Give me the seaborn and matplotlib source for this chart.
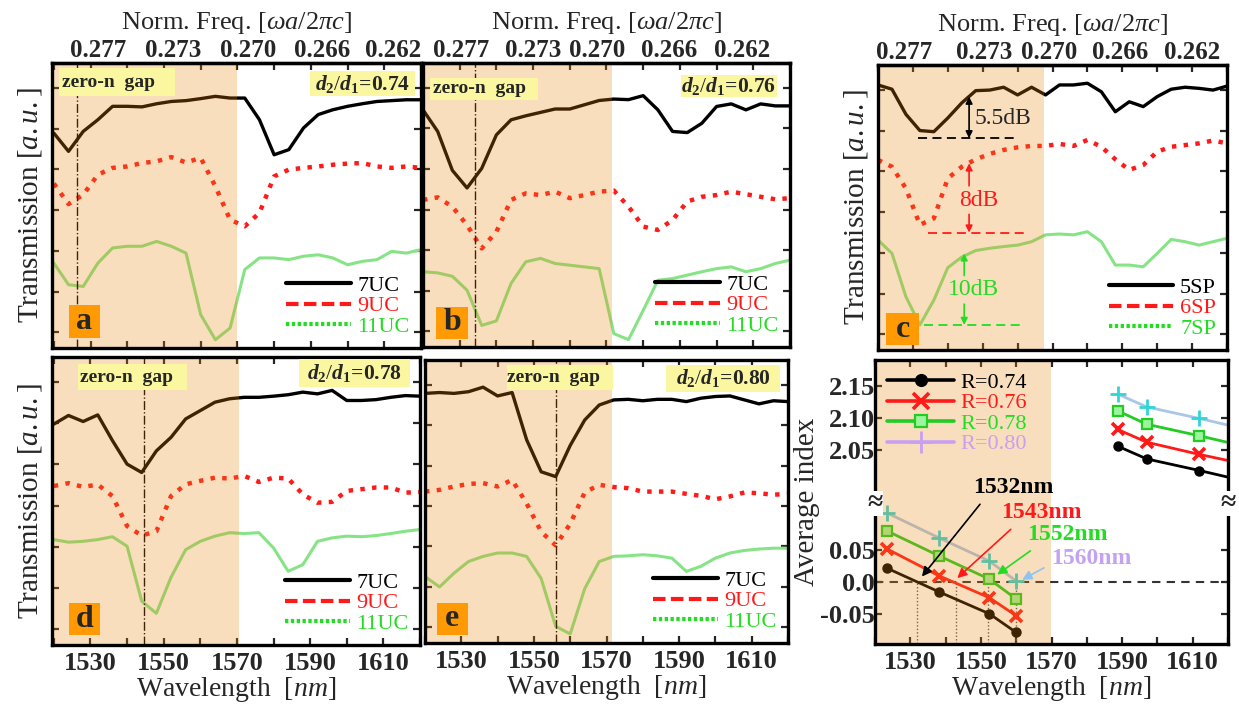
import numpy as np
import matplotlib
matplotlib.use("Agg")
import matplotlib.pyplot as plt
from matplotlib.patches import Rectangle
from matplotlib.lines import Line2D
import seaborn as sns

# ---------------- data ----------------
# wavelength grid (nm) at which the transmission traces were read
wl = [1520, 1524, 1528, 1532, 1536, 1540, 1544, 1548, 1552, 1556, 1560, 1564, 1568,
      1572, 1576, 1580, 1584, 1588, 1592, 1596, 1600, 1604, 1608, 1612, 1616, 1620]

# transmission, arbitrary units (traces are vertically offset)
a_7uc = [7.54, 6.90, 7.60, 8.01, 8.48, 8.48, 8.46, 8.57, 8.65, 8.68, 8.75, 8.83, 8.77,
         8.77, 8.01, 6.78, 6.96, 7.72, 8.19, 8.36, 8.48, 8.57, 8.65, 8.68, 8.71, 8.71]
a_9uc = [5.77, 5.05, 5.38, 6.08, 6.32, 6.37, 6.49, 6.55, 6.70, 6.51, 6.67, 5.67, 4.50,
         4.27, 4.74, 6.02, 6.26, 6.32, 6.37, 6.43, 6.47, 6.49, 6.37, 6.32, 6.37, 6.32]
a_11uc = [2.98, 2.22, 2.16, 2.98, 3.51, 3.57, 3.57, 3.74, 3.57, 3.33, 1.17, 0.29, 0.70,
          2.75, 3.16, 3.16, 3.10, 3.22, 3.27, 3.16, 2.92, 3.04, 3.10, 3.39, 3.33, 3.45]

b_7uc = [8.35, 7.59, 6.22, 5.60, 6.29, 7.47, 8.00, 8.14, 8.26, 8.38, 8.38, 8.53, 8.68,
         8.73, 8.71, 8.85, 8.35, 7.59, 7.55, 7.88, 8.47, 8.56, 8.35, 8.56, 8.49, 8.49]
b_9uc = [5.18, 5.27, 4.94, 4.29, 3.47, 4.06, 5.18, 5.41, 5.35, 5.47, 5.24, 5.35, 5.47,
         5.51, 4.94, 4.24, 4.12, 4.47, 5.12, 5.29, 5.35, 5.47, 5.38, 5.29, 5.20, 5.24]
b_11uc = [2.65, 2.61, 2.49, 2.00, 0.76, 0.92, 2.24, 3.00, 3.12, 2.94, 2.88, 2.82, 2.76,
          0.47, 0.26, 1.29, 2.35, 2.41, 2.53, 2.65, 2.76, 2.82, 2.65, 2.76, 2.94, 3.06]

c_5sp = [9.30, 9.15, 8.27, 7.70, 7.66, 8.14, 8.67, 9.10, 9.12, 9.22, 8.95, 9.22, 8.95,
         9.30, 9.30, 9.36, 9.06, 8.36, 8.71, 8.54, 8.89, 9.15, 9.22, 9.18, 9.12, 9.26]
c_6sp = [6.67, 6.43, 5.67, 4.39, 4.62, 6.02, 6.43, 6.69, 6.88, 7.02, 7.11, 7.16, 7.16,
         7.23, 7.16, 7.37, 7.13, 6.69, 6.32, 6.49, 6.96, 7.13, 7.19, 7.25, 7.35, 7.25]
c_7sp = [3.86, 3.39, 1.87, 0.88, 1.75, 2.89, 3.26, 3.49, 3.57, 3.63, 3.68, 3.80, 4.04,
         4.07, 4.04, 4.15, 3.80, 2.98, 2.98, 2.92, 3.39, 3.88, 3.80, 3.68, 3.80, 3.92]

d_7uc = [7.67, 7.97, 7.76, 7.99, 7.10, 6.28, 5.99, 6.74, 7.21, 7.85, 8.14, 8.43, 8.55,
         8.60, 8.60, 8.64, 8.69, 8.78, 8.72, 8.84, 8.49, 8.49, 8.52, 8.60, 8.66, 8.64]
d_9uc = [5.52, 5.62, 5.49, 5.57, 5.17, 4.13, 3.80, 3.95, 5.17, 5.58, 5.70, 5.81, 5.78,
         5.87, 5.66, 5.81, 5.78, 5.23, 4.94, 4.97, 5.35, 5.41, 5.47, 5.47, 5.29, 5.31]
d_11uc = [3.66, 3.57, 3.60, 3.66, 3.76, 3.43, 1.52, 1.10, 2.35, 3.31, 3.60, 3.78, 3.90,
          3.87, 3.90, 3.37, 2.56, 2.79, 3.60, 3.72, 3.78, 3.76, 3.80, 3.87, 3.95, 4.01]

e_7uc = [8.82, 8.85, 8.82, 8.88, 9.04, 8.73, 8.85, 7.18, 6.05, 5.88, 6.98, 7.88, 8.41,
         8.59, 8.61, 8.56, 8.61, 8.61, 8.53, 8.65, 8.71, 8.73, 8.59, 8.45, 8.56, 8.53]
e_9uc = [5.35, 5.41, 5.53, 5.62, 5.65, 5.53, 5.76, 4.93, 3.93, 3.45, 4.21, 5.32, 5.59,
         5.51, 5.47, 5.35, 5.35, 5.35, 5.27, 5.20, 5.08, 5.18, 5.32, 5.29, 5.24, 5.27]
e_11uc = [2.35, 1.98, 2.47, 2.88, 3.06, 3.18, 3.18, 3.06, 2.28, 0.59, 0.32, 1.92, 2.88,
          3.06, 3.08, 3.12, 3.08, 3.00, 2.53, 2.71, 3.00, 3.18, 3.27, 3.32, 3.35, 3.35]

uc_labels = ["7UC", "9UC", "11UC"]
sp_labels = ["5SP", "6SP", "7SP"]
ratios = ["0.74", "0.76", "0.78", "0.80"]
panel_ratio = ["0.74", "0.76", None, "0.78", "0.80"]
zero_n_center = [1526.2, 1534.2, None, 1544.6, 1556.1]   # dash-dot line per panel
gap_edge = [1570.0, 1571.5, 1567.5, 1570.5, 1571.5]      # end of zero-n gap shading

# dB contrast marks in panel c
c_db_text = ["5.5dB", "8dB", "10dB"]
c_db_top = [8.89, 6.55, 3.39]
c_db_base = [7.43, 4.12, 0.88]

# top axis labels (normalized frequency)
freq_labels = ["0.277", "0.273", "0.270", "0.266", "0.262"]
freq_pos_a = [1532, 1552.5, 1573, 1593, 1612.5]
freq_pos_b = [1530.5, 1550, 1567.5, 1587, 1607]
freq_pos_c = [1527.5, 1550.5, 1569, 1589.5, 1610]

# panel f: average index
f_wl_low = [1523.4, 1538.2, 1552.4, 1560.0]
f_wl_high = [1588.7, 1597.0, 1611.9, 1620.5]
idx_low = {"0.74": [0.021, -0.016, -0.050, -0.079],
           "0.76": [0.051, 0.009, -0.025, -0.053],
           "0.78": [0.079, 0.040, 0.004, -0.027],
           "0.80": [0.107, 0.068, 0.032, 0.001]}
idx_high = {"0.74": [2.056, 2.036, 2.018, 2.007],
            "0.76": [2.082, 2.062, 2.043, 2.033],
            "0.78": [2.111, 2.090, 2.072, 2.061],
            "0.80": [2.137, 2.117, 2.099, 2.088]}
f_cross = [1532, 1543, 1552, 1560]

# ---------------- style ----------------
sns.set_style("ticks")
plt.rcParams["font.family"] = ["Liberation Serif", "DejaVu Serif"]
plt.rcParams["mathtext.fontset"] = "custom"
plt.rcParams["mathtext.rm"] = "Liberation Serif"
plt.rcParams["mathtext.it"] = "Liberation Serif:italic"
plt.rcParams["mathtext.bf"] = "Liberation Serif:bold"
plt.rcParams["mathtext.bfit"] = "Liberation Serif:italic:bold"

BLACK = "#000000"
RED = "#FF1A1A"
GREEN_LINE = "#86E486"
GREEN = "#22DD22"
SHADE = "#EC850E"
YELLOW = "#FBF7A0"
ORANGE = "#FF9A05"

fig = plt.figure(figsize=(12.39, 7.05), dpi=100)


def add_panel(l, r, t, b):
    return fig.add_axes([l / 1239, 1 - b / 705, (r - l) / 1239, (b - t) / 705])


def frame(ax, xlim, bottom_labels):
    ax.set_xlim(*xlim)
    ax.set_xticks([1530, 1550, 1570, 1590, 1610])
    ax.set_xticks([1520, 1540, 1560, 1580, 1600, 1620], minor=True)
    ax.tick_params(which="both", direction="in", top=True, right=True,
                   length=5, width=1.6, labelsize=19, pad=5)
    ax.tick_params(axis="x", labelbottom=bottom_labels)
    for lab in ax.get_xticklabels():
        lab.set_fontweight("bold")
    for s in ax.spines.values():
        s.set_linewidth(2.4)
        s.set_color("black")
    if bottom_labels:
        ax.set_xlabel("Wavelength  [$nm$]", fontsize=20, labelpad=0)
    else:
        ax.set_xlabel("")


def top_freq(ax, pos):
    sec = ax.secondary_xaxis("top")
    sec.set_xticks(pos, freq_labels)
    sec.tick_params(length=0, pad=1, labelsize=18)
    for lab in sec.get_xticklabels():
        lab.set_fontweight("bold")
    sec.spines["top"].set_linewidth(2.4)
    sec.set_xlabel(r"Norm. Freq. [$\omega a/2\pi c$]", fontsize=19, labelpad=7)


def box_text(ax, x0, x1, y0, y1, txt, color, size, ha="left", tx=None):
    ax.add_patch(Rectangle((x0, y0), x1 - x0, y1 - y0, transform=ax.transAxes,
                           fc=color, ec="none", zorder=5, clip_on=False))
    if ha == "center":
        ax.text((x0 + x1) / 2, (y0 + y1) / 2, txt, transform=ax.transAxes, ha="center",
                va="center", fontsize=size, fontweight="bold", zorder=6)
    else:
        ax.text(tx, (y0 + y1) / 2, txt, transform=ax.transAxes, ha="left",
                va="center", fontsize=size, fontweight="bold", zorder=6)


def trans_panel(ax, traces, labels, i, xlim, letter, letter_box, zbox=None, rbox=None,
                bottom_labels=False, ylabel=True):
    black, red, green = traces
    sns.lineplot(x=wl, y=black, ax=ax, color=BLACK, lw=2.4, legend=False, zorder=2)
    sns.lineplot(x=wl, y=red, ax=ax, color=RED, lw=3.2, linestyle=":", legend=False, zorder=2)
    sns.lineplot(x=wl, y=green, ax=ax, color=GREEN_LINE, lw=2.2, legend=False, zorder=2)
    if zero_n_center[i] is not None:
        ax.axvline(zero_n_center[i], color="black", lw=1.0, ls="-.", zorder=2.1)
    ax.axvspan(xlim[0] - 2, gap_edge[i], color=SHADE, alpha=0.27, lw=0, zorder=2.3)
    ax.set_ylim(0, 10)
    ax.set_yticks(np.arange(0.55, 10, 1.43))
    ax.tick_params(axis="y", labelleft=False)
    frame(ax, xlim, bottom_labels)
    if ylabel:
        ax.set_ylabel("Transmission [$a.u.$]", fontsize=21, labelpad=6)
    else:
        ax.set_ylabel("")
    if zbox is not None:
        box_text(ax, *zbox[:4], "zero-n  gap", YELLOW, 14, tx=zbox[4])
    if rbox is not None:
        box_text(ax, *rbox, r"$\mathbfit{d}_{\mathbf{2}}/\mathbfit{d}_{\mathbf{1}}$=" + panel_ratio[i],
                 YELLOW, 15.5, ha="center")
    box_text(ax, *letter_box, letter, ORANGE, 23, ha="center")
    handles = [Line2D([], [], color=BLACK, lw=3),
               Line2D([], [], color=RED, lw=3, ls=(0, (3, 1.3))),
               Line2D([], [], color=GREEN, lw=3, ls=(0, (0.8, 0.6)))]
    leg = ax.legend(handles, labels, loc="lower right", frameon=False, fontsize=16,
                    handlelength=2.9, handletextpad=0.3, labelspacing=0.0,
                    borderaxespad=0.1, labelcolor=[BLACK, RED, GREEN])
    leg.set_zorder(6)


# ---------------- panels a-e ----------------
ax_a = add_panel(52, 421, 63, 348)
trans_panel(ax_a, (a_7uc, a_9uc, a_11uc), uc_labels, 0, (1519.5, 1620), "a",
            (0.045, 0.131, 0.035, 0.152), zbox=(0.018, 0.334, 0.883, 0.982, 0.027),
            rbox=(0.699, 0.984, 0.883, 0.971))
top_freq(ax_a, freq_pos_a)

ax_b = add_panel(423, 790, 63, 347)
trans_panel(ax_b, (b_7uc, b_9uc, b_11uc), uc_labels, 1, (1521, 1618), "b",
            (0.036, 0.123, 0.029, 0.141), zbox=(0.020, 0.314, 0.871, 0.947, 0.027),
            rbox=(0.702, 0.964, 0.882, 0.959), ylabel=False)
top_freq(ax_b, freq_pos_b)

ax_c = add_panel(878, 1227, 65, 350)
trans_panel(ax_c, (c_5sp, c_6sp, c_7sp), sp_labels, 2, (1521, 1620), "c",
            (0.024, 0.117, 0.018, 0.129))
top_freq(ax_c, freq_pos_c)

# contrast marks in panel c
db_colors = [BLACK, RED, GREEN]
db_span = [(1531.4, 1558.9), (1534.3, 1562.2), (1533.3, 1561.3)]
db_x = [1546.1, 1546.1, 1544.7]
for k in range(3):
    ax_c.hlines(c_db_base[k], *db_span[k], colors=db_colors[k], lw=1.3,
                linestyles=(0, (5, 3)), zorder=4)
ax_c.annotate("", xy=(db_x[0], c_db_base[0]), xytext=(db_x[0], c_db_top[0]),
              arrowprops=dict(arrowstyle="<|-|>", color=BLACK, lw=1.2, mutation_scale=10,
                              shrinkA=0, shrinkB=0), zorder=4)
ax_c.text(1547.8, 8.13, c_db_text[0], fontsize=17, ha="left", va="center", zorder=6)
for k, ymid in [(1, 5.26), (2, 2.11)]:
    ax_c.text(db_x[k] + 2.8, ymid, c_db_text[k], fontsize=17, ha="center", va="center",
              color=db_colors[k], zorder=6)
    ax_c.annotate("", xy=(db_x[k], c_db_top[k]), xytext=(db_x[k], ymid + 0.5),
                  arrowprops=dict(arrowstyle="-|>", color=db_colors[k], lw=1.2,
                                  mutation_scale=10, shrinkA=0, shrinkB=0), zorder=4)
    ax_c.annotate("", xy=(db_x[k], c_db_base[k]), xytext=(db_x[k], ymid - 0.5),
                  arrowprops=dict(arrowstyle="-|>", color=db_colors[k], lw=1.2,
                                  mutation_scale=10, shrinkA=0, shrinkB=0), zorder=4)

ax_d = add_panel(52, 420, 357, 645)
trans_panel(ax_d, (d_7uc, d_9uc, d_11uc), uc_labels, 3, (1519.5, 1620), "d",
            (0.045, 0.131, 0.035, 0.145), zbox=(0.072, 0.367, 0.884, 0.977, 0.075),
            rbox=(0.670, 0.973, 0.895, 0.993), bottom_labels=True)

ax_e = add_panel(425, 788, 360, 643)
trans_panel(ax_e, (e_7uc, e_9uc, e_11uc), uc_labels, 4, (1521, 1618), "e",
            (0.032, 0.119, 0.029, 0.141), zbox=(0.225, 0.518, 0.894, 0.982, 0.227),
            rbox=(0.665, 0.977, 0.888, 0.982), bottom_labels=True, ylabel=False)

# ---------------- panel f: average index with broken y axis ----------------
B1, B2, EPS = 0.123, 1.9698, 0.001


def fwd(y):
    y = np.asarray(y, dtype=float)
    return np.where(y <= B1, y, np.where(y >= B2, y - (B2 - B1) * (1 - EPS),
                                          B1 + (y - B1) * EPS))


def inv(t):
    t = np.asarray(t, dtype=float)
    top = B1 + (B2 - B1) * EPS
    return np.where(t <= B1, t, np.where(t >= top, t + (B2 - B1) * (1 - EPS),
                                          B1 + (t - B1) / EPS))


ax_f = add_panel(875, 1228, 360, 644)
ax_f.set_yscale("function", functions=(fwd, inv))

f_style = {
    "0.74": dict(color=BLACK, marker="o", ms=6.5, mfc=BLACK, mec=BLACK, mew=1),
    "0.76": dict(color=RED, marker="x", ms=9, mfc=RED, mec=RED, mew=2.6),
    "0.78": dict(color="#22CC22", marker="s", ms=6.5, mfc="#9CF59C", mec="#22CC22", mew=1.6),
    "0.80": dict(color="#A9C6E8", marker="+", ms=12, mfc="#30D5D5", mec="#30D5D5", mew=2.0),
}
for r in ratios:
    st = f_style[r]
    sns.lineplot(x=f_wl_low, y=idx_low[r], ax=ax_f, lw=2.0, legend=False, zorder=2, **st)
    sns.lineplot(x=f_wl_high, y=idx_high[r], ax=ax_f, lw=2.0, legend=False, zorder=2,
                 markevery=[0, 1, 2], **st)

ax_f.axhline(0.0, color="#333333", lw=1.5, ls=(0, (4, 3)), zorder=1.5)
ax_f.vlines(f_cross, -0.2, 0.0, colors="#555555", lw=1.0, linestyles=(0, (1, 1.5)), zorder=1.5)
ax_f.axvspan(1518, 1569.8, color=SHADE, alpha=0.27, lw=0, zorder=2.3)
ax_f.set_ylim(-0.097, 2.19)
frame(ax_f, (1520, 1620), True)
ax_f.set_yticks([-0.05, 0.0, 0.05, 2.05, 2.10, 2.15],
                ["-0.05", "0.0", "0.05", "2.05", "2.10", "2.15"])
ax_f.yaxis.set_minor_locator(matplotlib.ticker.NullLocator())
ax_f.tick_params(axis="y", labelsize=19, pad=0)
for lab in ax_f.get_yticklabels():
    lab.set_fontweight("bold")
ax_f.set_ylabel("Average index", fontsize=21, labelpad=0)

for xa in (0.0, 1.0):
    ax_f.text(xa, 0.495, "\u2248", transform=ax_f.transAxes, ha="center", va="center",
              fontsize=20, fontweight="bold", zorder=7,
              bbox=dict(fc="white", ec="none", pad=0.0))

lam_colors = [BLACK, RED, "#22DD22", "#C3A2F2"]
lam_text_pos = [(0.392, 0.552), (0.472, 0.462), (0.545, 0.385), (0.612, 0.300)]
lam_tips = [(1533.3, 0.008), (1543.3, 0.0056), (1554.6, 0.011), (1561.7, 0.003)]
arrow_colors = [BLACK, RED, "#22DD22", "#8FC3F0"]
relpos = [(0.15, 0.0), (0.2, 0.0), (0.14, 0.0), (0.0, 0.25)]
for k in range(4):
    ax_f.annotate(f"{f_cross[k]}nm", xy=lam_tips[k], xycoords="data",
                  xytext=lam_text_pos[k], textcoords="axes fraction", ha="center",
                  va="center", fontsize=17, fontweight="bold", color=lam_colors[k], zorder=7,
                  arrowprops=dict(arrowstyle="-|>", color=arrow_colors[k], lw=1.2,
                                  mutation_scale=14, relpos=relpos[k], shrinkA=3, shrinkB=0))

f_handles = []
for r, c in zip(ratios, [BLACK, RED, "#22CC22", "#C8A0F0"]):
    st = dict(f_style[r])
    if r == "0.80":
        st.update(color=c, mfc=c, mec=c)
    f_handles.append(Line2D([], [], lw=2.6, **st))
leg = ax_f.legend(f_handles, ["R=" + r for r in ratios], loc="upper left", frameon=False,
                  fontsize=16, handlelength=3.0, handletextpad=0.3, labelspacing=0.0,
                  borderaxespad=0.15, markerscale=1.3,
                  labelcolor=[BLACK, RED, "#22DD22", "#C8A0F0"])
leg.set_zorder(7)

fig.savefig("out.png", dpi=100)
